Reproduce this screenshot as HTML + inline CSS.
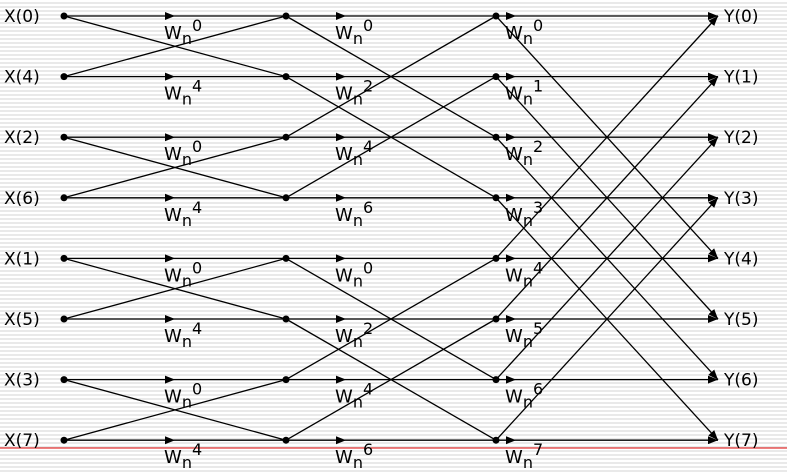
<!DOCTYPE html>
<html><head><meta charset="utf-8"><style>
html,body{margin:0;padding:0}
body{width:787px;height:472px;overflow:hidden;background:repeating-linear-gradient(to bottom,#fff 0,#fff 2px,#e9e9e9 2px,#e9e9e9 4px);font-family:"DejaVu Sans","Liberation Sans",sans-serif}
svg{position:absolute;left:0;top:0}
</style></head><body>
<svg id="c" width="787" height="472">
<defs><marker id="ah" markerWidth="10" markerHeight="8" refX="10" refY="4" orient="auto" markerUnits="userSpaceOnUse"><path d="M0,0 L10,4 L0,8 z" fill="#000"/></marker></defs>
<line x1="0" y1="448" x2="787" y2="448" stroke="#d00" stroke-width="1"/>
</svg>
<script>
const inputs=["X(0)","X(4)","X(2)","X(6)","X(1)","X(5)","X(3)","X(7)"];
const outputs=["Y(0)","Y(1)","Y(2)","Y(3)","Y(4)","Y(5)","Y(6)","Y(7)"];
const tw1=[0,4,0,4,0,4,0,4];
const tw2=[0,2,4,6,0,2,4,6];
const tw3=[0,1,2,3,4,5,6,7];
const svg=document.getElementById('c');
const NS='http://www.w3.org/2000/svg';
const rowY=i=>16+i*60.6;
const colX=[64,286,496,718];
function mk(t,a,name){const e=document.createElementNS(NS,t);for(const k in a)e.setAttribute(k,a[k]);


svg.appendChild(e);return e;}
function line(x1,y1,x2,y2,name,arrow){const l=mk('line',{x1,y1,x2,y2,stroke:'#000','stroke-width':1.3},name);if(arrow)l.setAttribute('marker-end','url(#ah)');}
function tri(x,y){mk('path',{d:`M${x-5},${y-4} L${x+5},${y} L${x-5},${y+4} z`,fill:'#000'},'arrow-head');}
function dot(x,y){mk('circle',{cx:x,cy:y,r:3.5,fill:'#000'},'node');}
function txt(x,y,s,size,name){const t=mk('text',{x,y,'font-size':size,fill:'#000'},name);t.textContent=s;return t;}
function tw(x,y,p){const t=mk('text',{x,y,'font-size':18,fill:'#000'},'twiddle-label');
t.innerHTML=`W<tspan dy="5" font-size="16">n</tspan><tspan dy="-13" font-size="16">${p}</tspan>`;}
const partner=[i=>i^1,i=>i^2,i=>i^4];
const tws=[tw1,tw2,tw3];
const arrX=[170,341,511];
for(let s=0;s<3;s++){
 for(let i=0;i<8;i++){
  const y=rowY(i),x1=colX[s],x2=colX[s+1];
  line(x1,y,x2,y,'straight-edge',s==2);
  line(x1,y,x2,rowY(partner[s](i)),'cross-edge',s==2);
  tri(arrX[s],y);
  tw(arrX[s]-6,y+23,tws[s][i]);
 }
}
for(let s=0;s<3;s++)for(let i=0;i<8;i++)dot(colX[s],rowY(i));
inputs.forEach((l,i)=>txt(4,rowY(i)+6,l,17,'input-label'));
outputs.forEach((l,i)=>txt(724,rowY(i)+6,l,17,'output-label'));
</script>
</body></html>
